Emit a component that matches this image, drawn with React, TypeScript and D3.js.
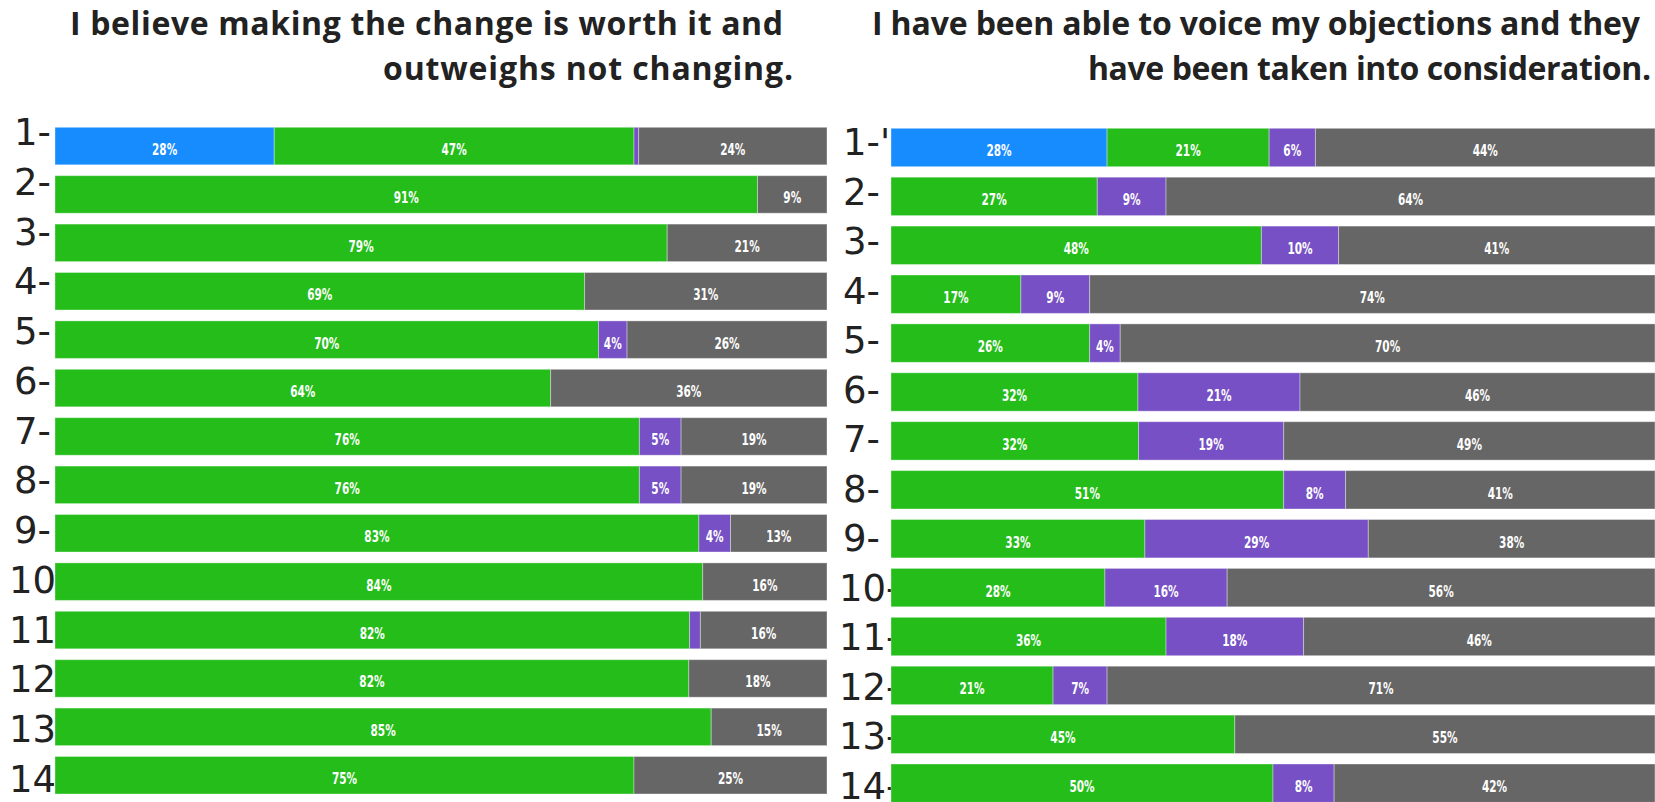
import React from "react";
import * as d3 from "d3";

const categories = ["1", "2", "3", "4", "5", "6", "7", "8", "9", "10", "11", "12", "13", "14"];
const keys = ["blue", "green", "purple", "grey"];
const colors = ["#168cff", "#24bd1a", "#7650c4", "#666666"];

const leftTitle = ["I believe making the change is worth it and", "outweighs not changing."];
const rightTitle = ["I have been able to voice my objections and they", "have been taken into consideration."];

const leftBlue = [28.4, 0, 0, 0, 0, 0, 0, 0, 0, 0, 0, 0, 0, 0];
const leftGreen = [46.6, 91, 79.3, 68.6, 70.4, 64.2, 75.7, 75.7, 83.4, 83.9, 82.2, 82.1, 85, 75];
const leftPurple = [0.6, 0, 0, 0, 3.7, 0, 5.4, 5.4, 4.1, 0, 1.4, 0, 0, 0];
const leftGrey = [24.4, 9, 20.7, 31.4, 25.9, 35.8, 18.9, 18.9, 12.5, 16.1, 16.4, 17.9, 15, 25];

const rightBlue = [28, 0, 0, 0, 0, 0, 0, 0, 0, 0, 0, 0, 0, 0];
const rightGreen = [21, 27, 48, 17, 26, 32, 32.4, 51.4, 33.3, 28, 36, 21, 45, 50];
const rightPurple = [6, 9, 10, 9, 4, 21, 19, 8.1, 29.3, 16, 18, 7, 0, 8];
const rightGrey = [44, 64, 41, 74, 70, 46, 48.6, 40.5, 37.6, 56, 46, 71, 55, 42];

const leftLabels = ["1-", "2-", "3-", "4-", "5-", "6-", "7-", "8-", "9-", "10-", "11-", "12-", "13-", "14-"];
const rightLabels = ["1-'", "2-", "3-", "4-", "5-", "6-", "7-", "8-", "9-", "10-", "11-", "12-", "13-", "14-"];

type Panel = {
  title: string[];
  titleX: number[];
  titleW: number[];
  labels: string[];
  series: number[][];
  x0: number;
  x1: number;
  barTop: number;
  barBottom: number;
  pad: number;
  labelTop: number;
  labelBottom: number;
  labelX1: number;
  labelX2: number;
};

const panels: Panel[] = [
  {
    title: leftTitle,
    titleX: [70, 383],
    titleW: [713, 410],
    labels: leftLabels,
    series: [leftBlue, leftGreen, leftPurple, leftGrey],
    x0: 55,
    x1: 827,
    barTop: 127.3,
    barBottom: 794,
    pad: 0.225,
    labelTop: 145,
    labelBottom: 792,
    labelX1: 14,
    labelX2: 9,
  },
  {
    title: rightTitle,
    titleX: [872, 1088],
    titleW: [768, 563],
    labels: rightLabels,
    series: [rightBlue, rightGreen, rightPurple, rightGrey],
    x0: 891,
    x1: 1655,
    barTop: 128.3,
    barBottom: 802.4,
    pad: 0.215,
    labelTop: 155,
    labelBottom: 799,
    labelX1: 843,
    labelX2: 839,
  },
];

function PanelView({ p }: { p: Panel }) {
  const rows = categories.map((c, i) => {
    const r: any = { cat: c };
    keys.forEach((k, j) => (r[k] = p.series[j][i]));
    return r;
  });
  const stacked = d3.stack<any>().keys(keys).offset(d3.stackOffsetExpand)(rows);
  const x = d3.scaleLinear().domain([0, 1]).range([p.x0, p.x1]);
  const y = d3.scaleBand<string>().domain(categories).range([p.barTop, p.barBottom]).paddingInner(p.pad).paddingOuter(0);
  const ly = d3.scalePoint<string>().domain(categories).range([p.labelTop, p.labelBottom]);

  return (
    <g>
      {p.title.map((t, i) => (
        <text
          key={"title" + i}
          x={p.titleX[i]}
          y={i === 0 ? 34.5 : 80}
          textLength={p.titleW[i]}
          lengthAdjust="spacing"
          fontFamily="'Open Sans', 'Noto Sans', sans-serif"
          fontWeight={700}
          fontSize={32}
          fill="#222"
        >
          {t}
        </text>
      ))}
      {categories.map((c, i) => (
        <text
          key={"l" + c}
          x={c.length > 1 ? p.labelX2 : p.labelX1}
          y={ly(c)}
          fontFamily="'DejaVu Sans', sans-serif"
          fontSize={37}
          fill="#222"
        >
          {p.labels[i]}
        </text>
      ))}
      {stacked.map((s, si) => (
        <g key={s.key} fill={colors[si]}>
          {s.map((d, i) => {
            const w = x(d[1]) - x(d[0]);
            if (w <= 0) return null;
            return (
              <rect
                key={i}
                x={x(d[0])}
                y={y(categories[i])}
                width={w}
                height={y.bandwidth()}
                stroke="#ffffff"
                strokeOpacity={0.35}
                strokeWidth={1}
              />
            );
          })}
        </g>
      ))}
      {stacked.map((s, si) => (
        <g key={"t" + s.key}>
          {s.map((d, i) => {
            const v = p.series[si][i];
            if (v < 3) return null;
            const cx = (x(d[0]) + x(d[1])) / 2;
            const cy = (y(categories[i]) as number) + y.bandwidth() / 2 + 9;
            return (
              <text
                key={i}
                transform={`translate(${cx},${cy}) scale(0.78,1)`}
                textAnchor="middle"
                fontFamily="'Liberation Sans Narrow', 'DejaVu Sans Condensed', sans-serif"
                fontWeight={700}
                fontSize={15}
                fill="#ffffff"
              >
                {Math.round(v) + "%"}
              </text>
            );
          })}
        </g>
      ))}
    </g>
  );
}

export default function App() {
  return (
    <div style={{ position: "fixed", left: 0, top: 0, width: 1655, height: 802, background: "#fff", overflow: "hidden" }}>
      <svg width={1655} height={802} style={{ display: "block" }}>
        <rect width={1655} height={802} fill="#ffffff" />
        {panels.map((p, i) => (
          <PanelView key={i} p={p} />
        ))}
      </svg>
    </div>
  );
}
